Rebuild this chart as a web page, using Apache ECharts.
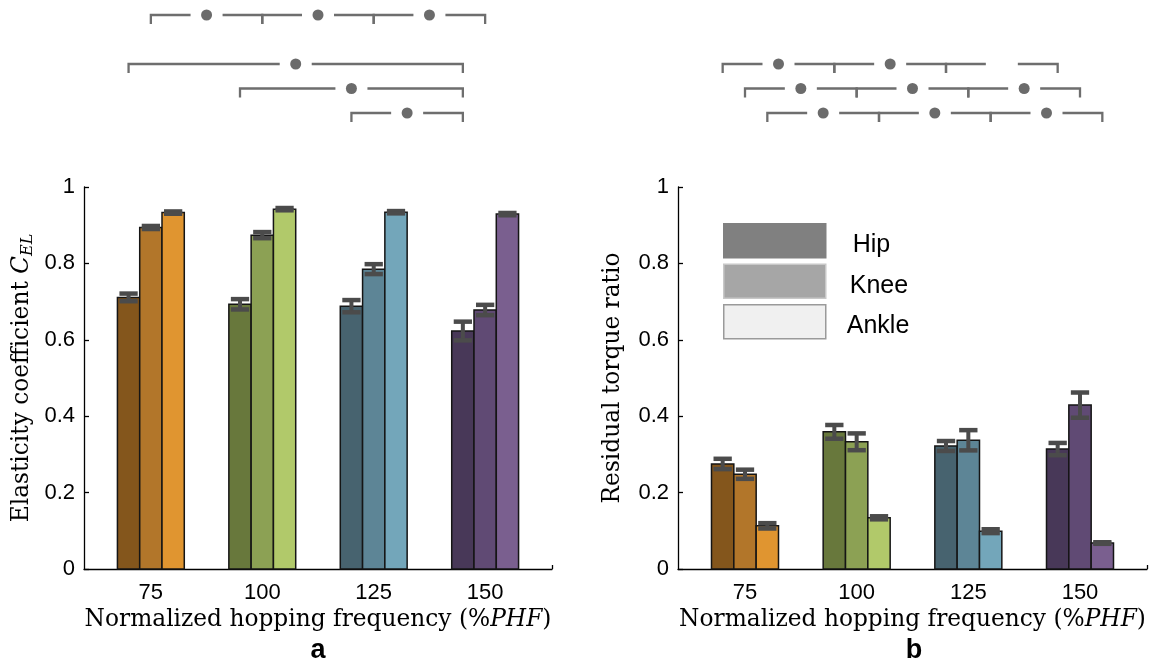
<!DOCTYPE html>
<html>
<head>
<meta charset="utf-8">
<script src="https://cdn.jsdelivr.net/npm/echarts@6/dist/echarts.min.js"></script>
<style>
  html, body { margin: 0; padding: 0; background: #fff; }
  #chart { width: 1162px; height: 660px; }
</style>
</head>
<body>
<div id="chart"></div>
<script>
// categories
const freqLabels = ['75', '100', '125', '150'];
const groups = [1, 2, 3, 4];
const jointNames = ['Hip', 'Knee', 'Ankle'];

// panel a: elasticity coefficient (mean, error)
const celHip = [0.711, 0.693, 0.688, 0.623];
const celHipErr = [0.010, 0.0135, 0.016, 0.0245];
const celKnee = [0.894, 0.874, 0.785, 0.678];
const celKneeErr = [0.004, 0.008, 0.013, 0.0135];
const celAnkle = [0.933, 0.942, 0.934, 0.929];
const celAnkleErr = [0.003, 0.003, 0.003, 0.003];

// panel b: residual torque ratio (mean, error)
const rtrHip = [0.275, 0.359, 0.322, 0.314];
const rtrHipErr = [0.0135, 0.018, 0.013, 0.016];
const rtrKnee = [0.248, 0.333, 0.337, 0.429];
const rtrKneeErr = [0.012, 0.022, 0.0265, 0.033];
const rtrAnkle = [0.113, 0.134, 0.099, 0.068];
const rtrAnkleErr = [0.007, 0.004, 0.005, 0.002];

// significance: [groupA, groupB, joint, row, star]
const sigA = [
  [1, 2, 1, 0, 1], [2, 3, 1, 0, 1], [3, 4, 1, 0, 1],
  [1, 4, 0, 2, 1], [2, 4, 0, 3, 1], [3, 4, 0, 4, 1]
];
const sigB = [
  [1, 2, 0, 2, 1], [2, 3, 0, 2, 1], [3, 4, 0, 2, 0],
  [1, 2, 1, 3, 1], [2, 3, 1, 3, 1], [3, 4, 1, 3, 1],
  [1, 2, 2, 4, 1], [2, 3, 2, 4, 1], [3, 4, 2, 4, 1]
];

// colours per joint, per frequency
const jointColors = [
  ['#84561c', '#68783c', '#47636f', '#483858'],
  ['#b2762a', '#8ca154', '#5d8596', '#604a74'],
  ['#e09530', '#b1c96a', '#73a6ba', '#7a5f8f']
];
const legendColors = ['#808080', '#a6a6a6', '#f0f0f0'];
const legendBorders = ['#808080', '#c8c8c8', '#9a9a9a'];
const legendTextPad = [22, 19, 16];

const offsets = [-0.2, 0, 0.2];
const barW = 0.2;
const sansFont = 'Liberation Sans';
const serifFont = 'DejaVu Serif';
const serifSize = 23.3;

function barSeries(name, vals, errs, j, ax) {
  return {
    type: 'custom',
    name: name,
    xAxisIndex: ax,
    yAxisIndex: ax,
    renderItem: function (params, api) {
      const x = api.value(0), v = api.value(1), e = api.value(2), g = api.value(3);
      const p0 = api.coord([x - barW / 2, 0]);
      const p1 = api.coord([x + barW / 2, v]);
      const top = api.coord([x, v + e]);
      const bot = api.coord([x, v - e]);
      const half = (p1[0] - p0[0]) * 0.41;
      const errStyle = { stroke: '#4b4b4b', lineWidth: 4.5 };
      return {
        type: 'group',
        children: [
          {
            type: 'rect',
            shape: { x: p0[0], y: p1[1], width: p1[0] - p0[0], height: p0[1] - p1[1] },
            style: { fill: jointColors[j][g], stroke: '#151515', lineWidth: 1.5 }
          },
          { type: 'line', shape: { x1: top[0], y1: top[1], x2: bot[0], y2: bot[1] }, style: { stroke: '#4b4b4b', lineWidth: 4 } },
          { type: 'line', shape: { x1: top[0] - half, y1: top[1], x2: top[0] + half, y2: top[1] }, style: errStyle },
          { type: 'line', shape: { x1: bot[0] - half, y1: bot[1], x2: bot[0] + half, y2: bot[1] }, style: errStyle }
        ]
      };
    },
    encode: { x: 0, y: 1 },
    data: groups.map((gr, i) => [gr + offsets[j], vals[i], errs[i], i])
  };
}

function sigSeries(list, ax) {
  return {
    type: 'custom',
    xAxisIndex: ax,
    yAxisIndex: ax,
    silent: true,
    renderItem: function (params, api) {
      const a = api.coord([api.value(0), api.value(2)]);
      const b = api.coord([api.value(1), api.value(2)]);
      const y = a[1], mid = (a[0] + b[0]) / 2, gap = 16, drop = 9;
      const ls = { stroke: '#6e6e6e', lineWidth: 2.3, fill: null };
      const ch = [
        { type: 'polyline', shape: { points: [[a[0], y + drop], [a[0], y], [mid - gap, y]] }, style: ls },
        { type: 'polyline', shape: { points: [[mid + gap, y], [b[0], y], [b[0], y + drop]] }, style: ls }
      ];
      if (api.value(3)) {
        ch.push({ type: 'circle', shape: { cx: mid, cy: y, r: 5.5 }, style: { fill: '#6b6b6b' } });
      }
      return { type: 'group', children: ch };
    },
    data: list.map(s => [s[0] + offsets[s[2]], s[1] + offsets[s[2]], s[3], s[4]])
  };
}

function barXAxis(idx) {
  return {
    type: 'value', gridIndex: idx, min: 0.4, max: 4.6,
    splitLine: { show: false },
    axisLine: { show: true, lineStyle: { color: '#000', width: 1.3 } },
    axisTick: { show: true, inside: true, length: 4, customValues: [1, 2, 3, 4, 4.6], lineStyle: { color: '#000', width: 1.3 } },
    axisLabel: {
      customValues: groups, margin: 13, fontSize: 22, color: '#000', fontFamily: sansFont,
      formatter: v => freqLabels[Math.round(v) - 1]
    },
    name: 'Normalized hopping frequency (%{i|PHF})',
    nameLocation: 'middle', nameGap: 31,
    nameTextStyle: {
      fontFamily: serifFont, fontSize: serifSize, color: '#000',
      rich: { i: { fontFamily: serifFont, fontSize: serifSize, fontStyle: 'italic', color: '#000' } }
    }
  };
}

function barYAxis(idx, name, gap, rich) {
  return {
    type: 'value', gridIndex: idx, min: 0, max: 1, interval: 0.2,
    splitLine: { show: false },
    axisLine: { show: true, lineStyle: { color: '#000', width: 1.3 } },
    axisTick: { show: true, inside: true, length: 5, lineStyle: { color: '#000', width: 1.3 } },
    axisLabel: { margin: 9, fontSize: 22, color: '#000', fontFamily: sansFont },
    name: name, nameLocation: 'middle', nameGap: gap,
    nameTextStyle: { fontFamily: serifFont, fontSize: serifSize, color: '#000', rich: rich }
  };
}

const chart = echarts.init(document.getElementById('chart'));
chart.setOption({
  animation: false,
  backgroundColor: '#fff',
  grid: [
    { left: 84, top: 187, width: 468, height: 382 },
    { left: 678, top: 187, width: 469, height: 382 },
    { left: 84, top: 15, width: 468, height: 98 },
    { left: 678, top: 15, width: 469, height: 98 }
  ],
  xAxis: [
    barXAxis(0),
    barXAxis(1),
    { type: 'value', gridIndex: 2, min: 0.4, max: 4.6, show: false },
    { type: 'value', gridIndex: 3, min: 0.4, max: 4.6, show: false }
  ],
  yAxis: [
    barYAxis(0, 'Elasticity coefficient {i|C}{s|EL}', 48, {
      i: { fontFamily: serifFont, fontSize: serifSize, fontStyle: 'italic', color: '#000' },
      s: { fontFamily: serifFont, fontSize: 16, fontStyle: 'italic', color: '#000', verticalAlign: 'bottom', padding: [13, 0, 0, 0] }
    }),
    barYAxis(1, 'Residual torque ratio', 54, {}),
    { type: 'value', gridIndex: 2, min: 0, max: 4, inverse: true, show: false },
    { type: 'value', gridIndex: 3, min: 0, max: 4, inverse: true, show: false }
  ],
  legend: {
    orient: 'vertical', left: 723, top: 223, padding: 0,
    itemWidth: 102, itemHeight: 34, itemGap: 5,
    icon: 'rect',
    formatter: name => '{t|' + name + '}',
    textStyle: {
      fontFamily: sansFont, fontSize: 25, color: '#000',
      rich: { t: { fontFamily: sansFont, fontSize: 25, color: '#000', padding: [9, 0, 0, 0] } }
    },
    data: jointNames.map((n, j) => ({
      name: n,
      itemStyle: { color: legendColors[j], borderColor: legendBorders[j], borderWidth: 1.5 },
      textStyle: { padding: [0, 0, 0, legendTextPad[j]] }
    }))
  },
  graphic: [
    { type: 'text', x: 318, y: 651, style: { text: 'a', font: 'bold 27px "Liberation Sans"', fill: '#000', align: 'center', verticalAlign: 'middle' } },
    { type: 'text', x: 914, y: 651, style: { text: 'b', font: 'bold 27px "Liberation Sans"', fill: '#000', align: 'center', verticalAlign: 'middle' } }
  ],
  series: [
    barSeries('Hip', celHip, celHipErr, 0, 0),
    barSeries('Knee', celKnee, celKneeErr, 1, 0),
    barSeries('Ankle', celAnkle, celAnkleErr, 2, 0),
    barSeries('Hip', rtrHip, rtrHipErr, 0, 1),
    barSeries('Knee', rtrKnee, rtrKneeErr, 1, 1),
    barSeries('Ankle', rtrAnkle, rtrAnkleErr, 2, 1),
    sigSeries(sigA, 2),
    sigSeries(sigB, 3)
  ]
});
</script>
</body>
</html>
